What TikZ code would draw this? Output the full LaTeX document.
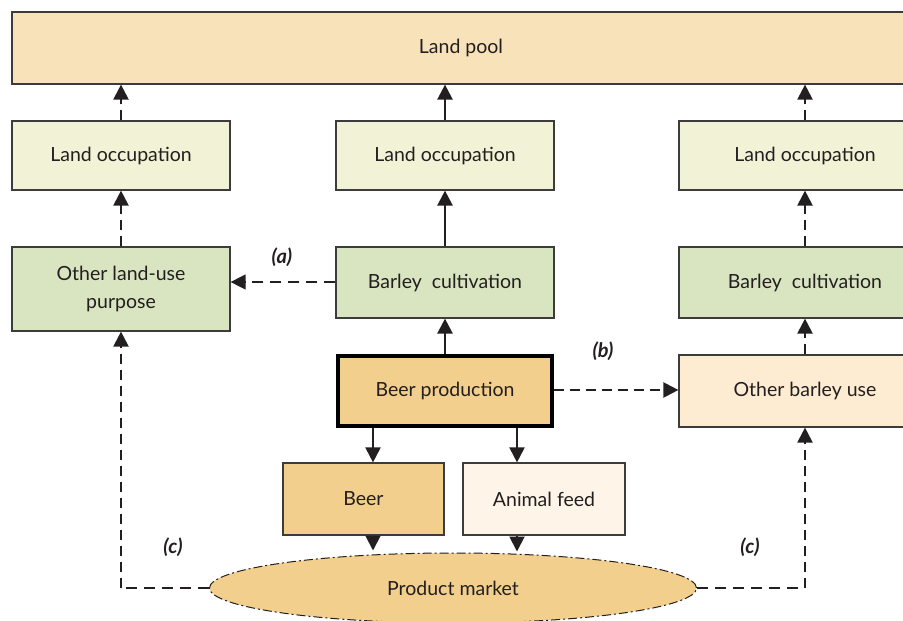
\documentclass[tikz,border=0pt]{standalone}
\usepackage{fontspec}
\setmainfont{Lato}
\usetikzlibrary{arrows.meta,shapes.geometric}

\definecolor{poolfill}{HTML}{F8E2BA}
\definecolor{occfill}{HTML}{F2F3D6}
\definecolor{greenfill}{HTML}{D9E4C1}
\definecolor{orangefill}{HTML}{F3CF8D}
\definecolor{feedfill}{HTML}{FEF5E8}
\definecolor{usefill}{HTML}{FDEBD2}
\definecolor{edge}{HTML}{3C3C3C}
\definecolor{ink}{HTML}{231F20}

\tikzset{
  box/.style={draw=edge, line width=1.2pt, inner sep=0pt, align=center,
              text=ink, font=\fontsize{19.5}{28}\selectfont},
  tip/.style={-{Triangle[width=15pt,length=15pt]}},
  solidlink/.style={tip, draw=ink, line width=2.4pt},
  dashlink/.style={tip, draw=ink, line width=2.2pt, dash pattern=on 10pt off 6pt},
  thindash/.style={draw=ink, line width=1.3pt, dash pattern=on 11pt off 7pt},
  tag/.style={text=ink, font=\fontsize{20}{22}\selectfont\bfseries\itshape}
}

\begin{document}
\begin{tikzpicture}[x=1pt,y=-1pt]
\useasboundingbox (0,0) rectangle (903,621);
\clip (0,0) rectangle (903,621);

% top pool
\node[box, fill=poolfill, minimum width=898pt, minimum height=72pt] (pool) at (461,48) {Land pool};

% land occupation row
\node[box, fill=occfill, minimum width=218pt, minimum height=69pt] (occL) at (121,155.5) {Land occupation};
\node[box, fill=occfill, minimum width=218pt, minimum height=69pt] (occM) at (445,155.5) {Land occupation};
\node[box, fill=occfill, minimum width=252pt, minimum height=69pt] (occR) at (805,155.5) {Land occupation};

% cultivation row
\node[box, fill=greenfill, minimum width=218pt, minimum height=84pt] (otherL) at (121,289) {Other land-use\\purpose};
\node[box, fill=greenfill, minimum width=218pt, minimum height=71pt] (barM) at (445,282.5) {Barley\ \ cultivation};
\node[box, fill=greenfill, minimum width=252pt, minimum height=71pt] (barR) at (805,282.5) {Barley\ \ cultivation};

% production row
\node[box, fill=orangefill, draw=black, line width=3.5pt, minimum width=214pt, minimum height=70pt] (prod) at (445,391) {Beer production};
\node[box, fill=usefill, minimum width=252pt, minimum height=72pt] (obu) at (805,391) {Other barley use};

% products
\node[box, fill=orangefill, minimum width=161pt, minimum height=72pt] (beer) at (363.5,499) {Beer};
\node[box, fill=feedfill, minimum width=162pt, minimum height=72pt] (feed) at (544,499) {Animal feed};

% market
\node[ellipse, draw=ink, line width=1pt, dash pattern=on 9pt off 3pt on 2pt off 3pt,
      fill=orangefill, minimum width=487pt, minimum height=70pt, inner sep=0pt,
      text=ink, font=\fontsize{19.5}{22}\selectfont] (market) at (453,588) {Product market};

% labels
\node[tag] (ta) at (282,257) {(a)};
\node[tag] (tb) at (603,351) {(b)};
\node[tag] (tcL) at (173,547) {(c)};
\node[tag] (tcR) at (750,547) {(c)};

% middle column (solid)
\draw[solidlink] (occM.north) -- (pool.south -| occM.north);
\draw[solidlink] (barM.north) -- (occM.south);
\draw[solidlink] (prod.north) -- (barM.south);

\coordinate (pB) at ([xshift=-72pt]prod.south);
\coordinate (pF) at ([xshift=72pt]prod.south);
\draw[solidlink, line width=2pt] (pB) -- (pB |- beer.north);
\draw[solidlink, line width=2pt] (pF) -- (pF |- feed.north);
\draw[solidlink, line width=2pt] (pB |- beer.south) -- ([yshift=2pt]pB |- market.north);
\draw[solidlink, line width=2pt] (pF |- feed.south) -- ([yshift=1pt]pF |- market.north);

% left column (dashed)
\draw[dashlink] (occL.north) -- (pool.south -| occL.north);
\draw[dashlink] (otherL.north) -- (occL.south);

% right column (dashed)
\draw[dashlink] (occR.north) -- (pool.south -| occR.north);
\draw[dashlink] (barR.north) -- (occR.south);
\draw[dashlink] (obu.north) -- (barR.south);

% (a) land displacement
\draw[tip, thindash] ([yshift=0.5pt]barM.west) -- ([yshift=0.5pt]barM.west -| otherL.east);

% (b) barley diverted
\draw[dashlink] ([yshift=1pt]prod.east) -- ([yshift=1pt]prod.east -| obu.west);

% (c) market feedback loops
\coordinate (cL) at (market.west -| otherL.south);
\coordinate (cR) at (market.east -| obu.south);
\draw[thindash] (market.west) -- (cL);
\draw[dashlink] (cL) -- (otherL.south);
\draw[thindash] (market.east) -- (cR);
\draw[dashlink] (cR) -- (obu.south);

\end{tikzpicture}
\end{document}
